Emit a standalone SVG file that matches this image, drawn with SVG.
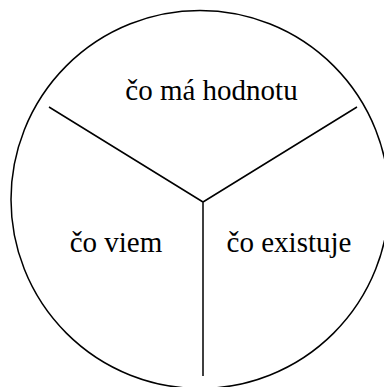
<svg xmlns="http://www.w3.org/2000/svg" width="384" height="387" viewBox="0 0 384 387">
<style>
.s{fill:none;stroke:#000;stroke-width:1.5}
.t{font-family:"Liberation Serif","Times New Roman",serif;font-size:29px;fill:#000;text-anchor:middle}
</style>
<rect width="384" height="387" fill="#fff"/>
<g id="circle"><circle class="s" cx="200" cy="199.5" r="189"/></g>
<g id="connectors">
<path class="s" d="M49 107 L203 202 L357 107 M203 202 L203 376"/>
</g>
<g id="value"><text class="t" x="211.5" y="100">čo má hodnotu</text></g>
<g id="know"><text class="t" x="116" y="252">čo viem</text></g>
<g id="exist"><text class="t" x="289" y="252">čo existuje</text></g>
</svg>
